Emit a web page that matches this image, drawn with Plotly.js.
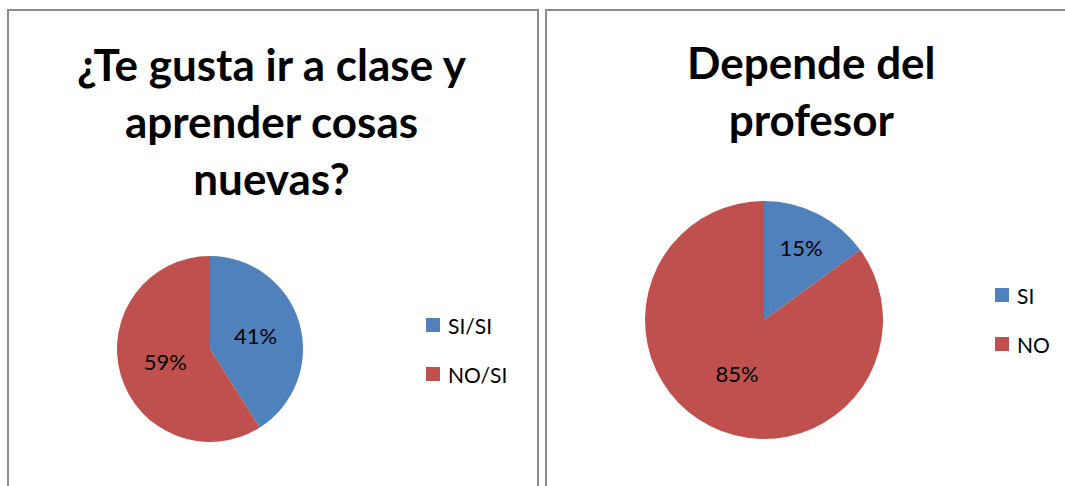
<!DOCTYPE html>
<html>
<head>
<meta charset="utf-8">
<script src="https://cdn.plot.ly/plotly-3.0.1.min.js"></script>
<style>html,body{margin:0;padding:0;background:#fff;}#chart{width:1065px;height:486px;}</style>
</head>
<body>
<div id="chart"></div>
<script>
const title1 = "¿Te gusta ir a clase y<br>aprender cosas<br>nuevas?";
const labels1 = ["SI/SI", "NO/SI"];
const values1 = [41, 59];
const title2 = "Depende del<br>profesor";
const labels2 = ["SI", "NO"];
const values2 = [15, 85];
const colors = ["#4F81BD", "#C0504D"];

const W = 1065, H = 486;
const FONT = "Lato, 'Open Sans', sans-serif";
const px = v => v / W;
const py = v => 1 - v / H;

function pieTrace(labels, values, x0, x1, yTop, yBot) {
  return {
    type: "pie", labels: labels, values: values, sort: false,
    direction: "clockwise", rotation: 0,
    marker: {colors: colors, line: {width: 0}},
    textinfo: "percent", textposition: "inside",
    insidetextorientation: "horizontal",
    textfont: {family: FONT, size: 22, color: "#000"},
    hoverinfo: "label+percent",
    showlegend: false,
    domain: {x: [px(x0), px(x1)], y: [py(yBot), py(yTop)]}
  };
}

const data = [
  pieTrace(labels1, values1, 117, 303, 256, 442),
  pieTrace(labels2, values2, 645, 883, 201, 439)
];

const shapes = [
  {type: "rect", xref: "paper", yref: "paper", x0: px(8), x1: px(538), y0: py(500), y1: py(10), line: {color: "#8c8c8c", width: 2}},
  {type: "rect", xref: "paper", yref: "paper", x0: px(546), x1: px(1080), y0: py(500), y1: py(10), line: {color: "#8c8c8c", width: 2}}
];
const annotations = [
  {text: title1, xref: "paper", yref: "paper", x: px(272), y: py(121), xanchor: "center", yanchor: "middle", showarrow: false,
   font: {family: FONT, size: 44, color: "#000", weight: "bold"}},
  {text: title2, xref: "paper", yref: "paper", x: px(812), y: py(91), xanchor: "center", yanchor: "middle", showarrow: false,
   font: {family: FONT, size: 44, color: "#000", weight: "bold"}}
];

function legend(labels, xSq, yCenters) {
  labels.forEach((lab, i) => {
    const yc = yCenters[i];
    shapes.push({type: "rect", xref: "paper", yref: "paper", x0: px(xSq), x1: px(xSq + 14), y0: py(yc + 7), y1: py(yc - 7),
      fillcolor: colors[i], line: {width: 0}});
    annotations.push({text: lab, xref: "paper", yref: "paper", x: px(xSq + 20), y: py(yc), xanchor: "left", yanchor: "middle",
      showarrow: false, font: {family: FONT, size: 21, color: "#000"}});
  });
}
legend(labels1, 426, [325, 374]);
legend(labels2, 995, [295, 344]);

const layout = {
  width: W, height: H,
  margin: {l: 0, r: 0, t: 0, b: 0},
  paper_bgcolor: "#fff", plot_bgcolor: "#fff",
  shapes: shapes, annotations: annotations,
  showlegend: false
};
Plotly.newPlot("chart", data, layout, {displayModeBar: false, staticPlot: true});
</script>
</body>
</html>
